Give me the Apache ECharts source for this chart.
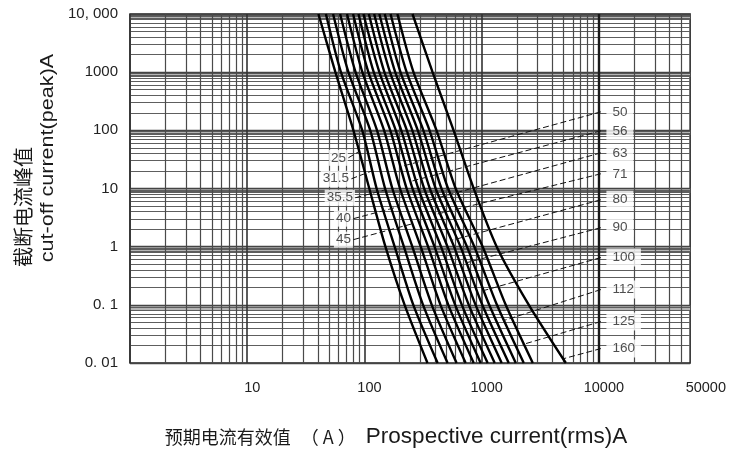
<!DOCTYPE html>
<html><head><meta charset="utf-8">
<script src="https://cdn.jsdelivr.net/npm/echarts@6/dist/echarts.min.js"></script>
<style>html,body{margin:0;padding:0;background:#fff}#c{width:729px;height:453px}</style>
</head><body><div id="c"></div>
<script>
// cut-off current levels (y) at which each curve's prospective current (x) was read
const yLevels = [10000, 1000, 100, 10, 1, 0.1, 0.01];
const ratings = ['25','31.5','35.5','40','45','50','56','63','71','80','90','100','112','125','160'];
const x25   = [40.5, 56.5, 80.5, 110, 151, 220, 345];
const x31_5 = [46.9, 63, 95.7, 127, 181, 261, 421];
const x35_5 = [54, 73, 112, 150, 217, 316, 512];
const x40   = [62, 84, 128, 173, 256, 375, 611];
const x45   = [71, 96, 147, 201, 302, 445, 730];
const x50   = [80, 108, 166, 229, 349, 519, 855];
const x56   = [89, 120, 185, 257, 396, 594, 980];
const x63   = [98, 134, 206, 288, 450, 677, 1125];
const x71   = [109, 148, 230, 323, 511, 776, 1292];
const x80   = [121, 165, 256, 361, 581, 887, 1483];
const x90   = [134, 183, 285, 405, 659, 1012, 1702];
const x100  = [149, 203, 318, 454, 749, 1159, 1954];
const x112  = [167, 229, 359, 517, 866, 1349, 2286];
const x125  = [191, 262, 412, 600, 1020, 1603, 2729];
const x160  = [257, 381, 576, 855, 1343, 2523, 5224];
const curveX = [x25, x31_5, x35_5, x40, x45, x50, x56, x63, x71, x80, x90, x100, x112, x125, x160];
// leader lines: label anchor -> point on curve
const leaderFrom = [[73,33.7],[77.4,14.7],[83.8,6.93],[80.5,3.03],[80.5,1.32],
  [10400,208],[10400,98],[10400,41],[10400,17.9],[10400,6.4],[10400,2.12],[10400,0.65],[10400,0.183],[10400,0.0516],[10400,0.0177]];
const leaderTo = [[89,42.8],[117,20.2],[151,9.52],[195,4.86],[257,2.48],
  [203,23.6],[243,13.1],[319,5.93],[396,3.54],[543,1.27],[745,0.531],[1040,0.176],[1542,0.0537],[2240,0.0208],[5020,0.0119]];
// axis tick labels
const xTickValues = [10, 100, 1000, 10000, 50000];
const xTickText = ['10', '100', '1000', '10000', '50000'];
const yTickExp = [-2, -1, 0, 1, 2, 3, 4];
const yTickText = ['0. 01', '0. 1', '1', '10', '100', '1000', '10, 000'];

const chart = echarts.init(document.getElementById('c'), null, {renderer: 'canvas'});

// log-paper grid lines
const xMinor = [], xMajor = [1, 10, 100, 1000, 10000];
for (let k = 0; k <= 4; k++) for (let m = 2; m <= 9; m++) { const v = m * Math.pow(10, k); if (v < 60000) xMinor.push(v); }
const yMinor = [], yBand = [];
for (let k = -2; k <= 3; k++) for (let m = 2; m <= 9; m++) yMinor.push(+(m * Math.pow(10, k)).toPrecision(3));
for (let k = -1; k <= 4; k++) { const d = Math.pow(10, k); yMinor.push(+(0.95 * d).toPrecision(3), +(0.85 * d).toPrecision(3)); yBand.push(+(0.92 * d).toPrecision(3)); }
const yMajor = [0.01, 0.1, 1, 10, 100, 1000, 10000];

function mlSeries(list, axis, color, width, z) {
  return {type: 'line', data: [], z: z, silent: true, animation: false,
    markLine: {silent: true, symbol: ['none', 'none'], animation: false, label: {show: false},
      lineStyle: {color: color, width: width, type: 'solid'},
      data: list.map(v => ({[axis]: v}))}};
}

const series = [
  mlSeries(yBand, 'yAxis', '#b5b5b5', 5, 1),
  mlSeries(yMinor, 'yAxis', '#5e5e5e', 1.1, 2),
  mlSeries(yMajor, 'yAxis', '#444', 1.3, 2),
  mlSeries(xMinor, 'xAxis', '#4a4a4a', 1.2, 2),
  mlSeries(xMajor, 'xAxis', '#333', 1.6, 2),
  mlSeries([10000], 'xAxis', '#1a1a1a', 2.4, 2)
];
ratings.forEach((r, i) => {
  series.push({type: 'line', name: r, data: curveX[i].map((x, j) => [x, yLevels[j]]),
    smooth: 0.25, symbol: 'none', animation: false, z: 5,
    lineStyle: {color: '#000', width: 2.4}});
  series.push({type: 'line', data: [leaderFrom[i], leaderTo[i]], symbol: 'none', animation: false, z: 6,
    lineStyle: {color: '#111', width: 1, type: [6, 3]}});
});
const lblFont = {fontFamily: '"Liberation Sans Narrow","Liberation Sans",sans-serif', fontSize: 13.5, color: '#222', backgroundColor: '#fff'};
series.push({type: 'scatter', symbolSize: 1, itemStyle: {color: 'rgba(0,0,0,0)'}, z: 10, animation: false,
  data: ratings.slice(0, 5).map((r, i) => ({name: r, value: leaderFrom[i]})),
  label: Object.assign({show: true, position: 'left', distance: 0, formatter: '{b}', padding: [1, 2]}, lblFont)});
series.push({type: 'scatter', symbolSize: 1, itemStyle: {color: 'rgba(0,0,0,0)'}, z: 10, animation: false,
  data: ratings.slice(5).map((r, i) => ({name: r, value: leaderFrom[i + 5]})),
  label: Object.assign({show: true, position: 'right', distance: 5, formatter: '{b}', padding: [2, 6]}, lblFont)});

const option = {
  backgroundColor: '#fff',
  animation: false,
  grid: {left: 130, right: 37, top: 14, bottom: 90, show: true, borderColor: '#222', borderWidth: 1.5, backgroundColor: 'transparent'},
  xAxis: {type: 'log', logBase: 10, min: 1, max: 60000,
    axisLine: {show: false}, axisTick: {show: false}, splitLine: {show: false}, minorSplitLine: {show: false},
    axisLabel: {customValues: xTickValues, margin: 17, color: '#222', fontSize: 14.5,
      fontFamily: '"Liberation Sans",Arial,sans-serif', padding: [0, 0, 0, 10],
      formatter: function (v) {
        const i = xTickValues.findIndex(t => Math.abs(t - v) / t < 1e-6);
        if (i < 0) return '';
        return i === 4 ? '{far|' + xTickText[i] + '}' : xTickText[i];
      },
      rich: {far: {padding: [0, 0, 0, 40], fontSize: 14.5, color: '#222', fontFamily: '"Liberation Sans",Arial,sans-serif'}}}
  },
  yAxis: {type: 'log', logBase: 10, min: 0.01, max: 10000,
    axisLine: {show: false}, axisTick: {show: false}, splitLine: {show: false},
    axisLabel: {margin: 12, color: '#222', fontSize: 15, fontFamily: '"Liberation Sans",Arial,sans-serif',
      formatter: function (v) { const e = Math.round(Math.log10(v)); const i = yTickExp.indexOf(e); return i < 0 ? '' : yTickText[i]; }}
  },
  graphic: [
    {type: 'text', x: 396, y: 437, silent: true, style: {
      text: '{cn|预期电流有效值}{p|（ A ）}{en|Prospective current(rms)A}',
      align: 'center', verticalAlign: 'middle',
      rich: {
        cn: {fontFamily: '"Noto Sans CJK SC",sans-serif', fontSize: 18, fill: '#1a1a1a'},
        p: {fontFamily: '"Noto Sans CJK SC",sans-serif', fontSize: 18, fill: '#1a1a1a', padding: [0, 10, 0, 10]},
        en: {fontFamily: '"Liberation Sans",Arial,sans-serif', fontSize: 22.5, fill: '#1a1a1a'}
      }}},
    {type: 'text', x: 23, y: 207, rotation: Math.PI / 2, silent: true, style: {
      text: '截断电流峰值', fontFamily: '"Noto Sans CJK SC",sans-serif', fontSize: 20, fill: '#1a1a1a',
      align: 'center', verticalAlign: 'middle'}},
    {type: 'text', x: 48, y: 158, rotation: Math.PI / 2, scaleX: 1.2, silent: true, style: {
      text: 'cut-off current(peak)A', fontFamily: '"Liberation Sans",Arial,sans-serif', fontSize: 18, fill: '#1a1a1a',
      align: 'center', verticalAlign: 'middle'}}
  ],
  series: series
};
chart.setOption(option);
</script>
</body></html>
